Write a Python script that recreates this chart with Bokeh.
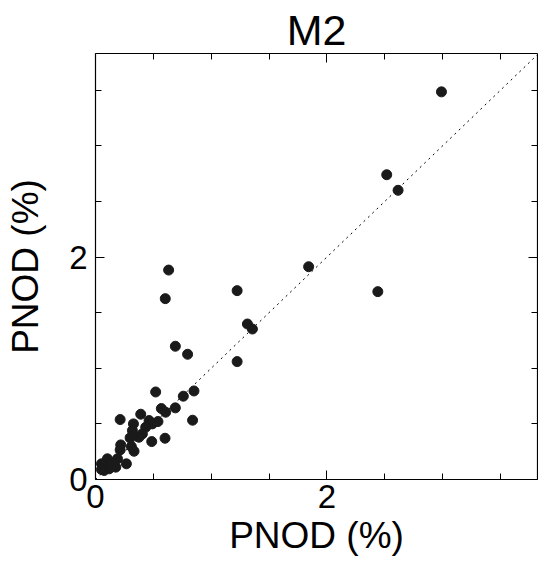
from bokeh.plotting import figure
from bokeh.models import FixedTicker, LinearAxis, Range1d
from bokeh.embed import file_html
from bokeh.resources import INLINE

x_vals = [2.99, 2.517, 2.615, 1.842, 2.44, 0.632, 0.603, 1.224, 1.313, 1.356,
          1.224, 0.690, 0.796, 0.520, 0.759, 0.851, 0.690, 0.569, 0.606, 0.839,
          0.391, 0.213, 0.328, 0.463, 0.491, 0.540, 0.434, 0.319, 0.405, 0.376,
          0.299, 0.601, 0.486, 0.218, 0.213, 0.310, 0.333, 0.267, 0.190, 0.147,
          0.103, 0.175, 0.098, 0.052, 0.052, 0.075, 0.118, 0.138]
y_vals = [3.485, 2.74, 2.60, 1.913, 1.689, 1.883, 1.626, 1.698, 1.398, 1.353,
          1.06, 1.198, 1.126, 0.787, 0.749, 0.796, 0.644, 0.638, 0.605, 0.533,
          0.587, 0.539, 0.5, 0.53, 0.5, 0.521, 0.47, 0.44, 0.41, 0.38,
          0.374, 0.371, 0.341, 0.311, 0.266, 0.296, 0.254, 0.141, 0.186, 0.141,
          0.186, 0.111, 0.111, 0.141, 0.09, 0.081, 0.096, 0.126]
diag = [0, 3.82]
major = [0, 2]
minor = [0.5, 1, 1.5, 2.5, 3, 3.5]

FONT = "Liberation Sans"

p = figure(width=538, height=573, output_backend="svg", toolbar_location=None,
           x_range=Range1d(0, 3.82), y_range=Range1d(0, 3.83),
           min_border_left=95, min_border_right=1, min_border_top=53,
           min_border_bottom=94, title="M2", x_axis_label="PNOD (%)",
           y_axis_label="PNOD (%)")
p.grid.visible = False
p.outline_line_color = None
p.title.align = "center"
p.title.text_font = FONT
p.title.text_font_size = "43px"
p.title.text_font_style = "normal"
p.title.text_color = "black"
p.title.offset = 0
p.title.standoff = 0

p.line(diag, diag, line_dash="2 4", line_color="black", line_width=1)
p.scatter(x_vals, y_vals, size=10, color="#1a1a1a")

p.add_layout(LinearAxis(), "above")
p.add_layout(LinearAxis(), "right")
for ax in p.axis:
    ax.ticker = FixedTicker(ticks=major, minor_ticks=minor)
    ax.axis_line_color = "black"
    ax.axis_line_width = 1.2
    ax.major_tick_in = 9
    ax.major_tick_out = 0
    ax.minor_tick_in = 6
    ax.minor_tick_out = 0
    ax.major_label_text_font = FONT
    ax.major_label_text_font_size = "33px"
    ax.major_label_text_color = "black"
    ax.axis_label_text_font = FONT
    ax.axis_label_text_font_size = "37px"
    ax.axis_label_text_font_style = "normal"
    ax.axis_label_text_color = "black"
    ax.axis_label_standoff = 4
for ax in p.above + p.right:
    ax.major_label_text_color = None
    ax.major_label_standoff = 0
p.xaxis[0].major_label_standoff = 4
p.xaxis[0].axis_label_standoff = 8
p.yaxis[0].major_label_standoff = 8
p.yaxis[0].axis_label_standoff = 20
p.yaxis[0].major_label_orientation = "horizontal"

open("out.html", "w").write(file_html(p, INLINE))
